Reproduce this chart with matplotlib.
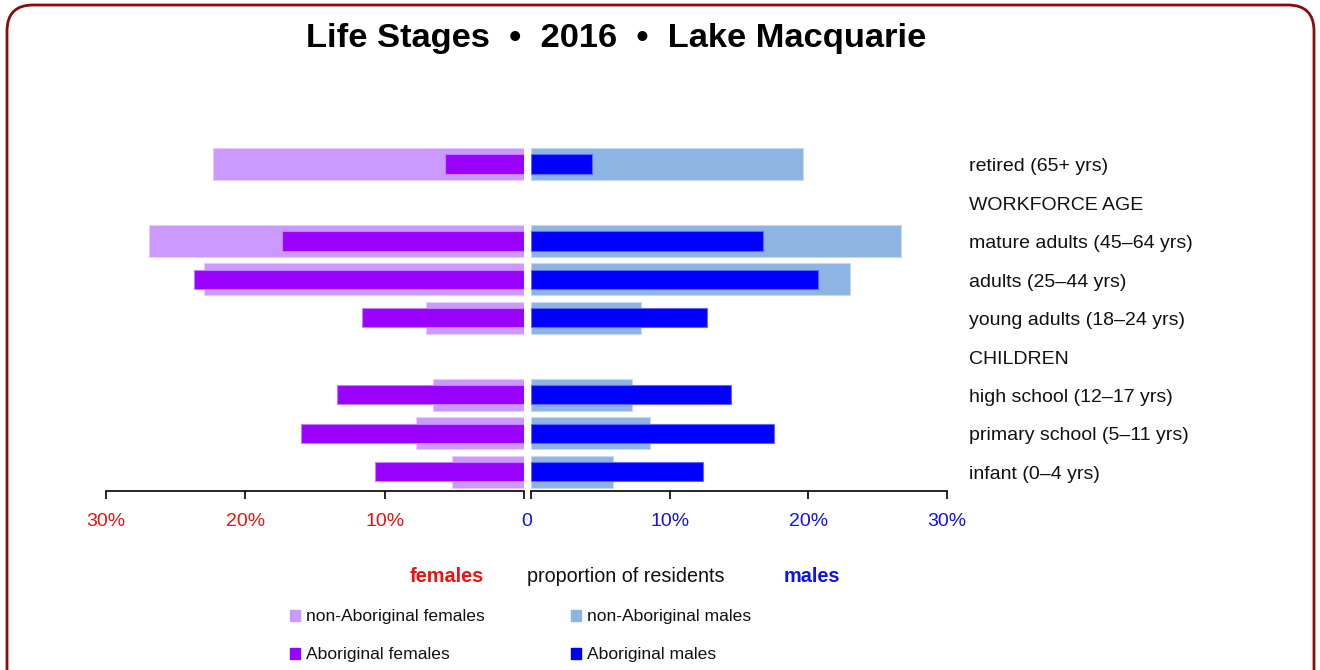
import numpy as np
import matplotlib
matplotlib.use("Agg")
import matplotlib.pyplot as plt
import matplotlib.transforms as mtransforms
from matplotlib.patches import FancyBboxPatch, Rectangle

# rows from top to bottom, None = section heading row
rows = ["retired (65+ yrs)", "WORKFORCE AGE", "mature adults (45\u201364 yrs)",
        "adults (25\u201344 yrs)", "young adults (18\u201324 yrs)", "CHILDREN",
        "high school (12\u201317 yrs)", "primary school (5\u201311 yrs)", "infant (0\u20134 yrs)"]
fem_non = [22.3, None, 26.9, 23.0, 7.0, None, 6.5, 7.75, 5.2]
fem_abo = [5.7, None, 17.4, 23.7, 11.65, None, 13.4, 16.0, 10.7]
male_non = [19.6, None, 26.7, 23.0, 7.95, None, 7.3, 8.6, 5.9]
male_abo = [4.4, None, 16.7, 20.7, 12.7, None, 14.4, 17.5, 12.4]

tick_vals = [0, 10, 20, 30]
left_ticks = ["", "10%", "20%", "30%"]
right_ticks = ["0", "10%", "20%", "30%"]

c_fem_non = "#CC99FF"
c_fem_abo = "#9900FF"
c_male_non = "#8EB4E3"
c_male_abo = "#0000FF"
c_red = "#EE1111"
c_blue = "#1111EE"

plt.rcParams['font.family'] = ['Liberation Sans', 'DejaVu Sans']

W, H = 1320, 670
fig = plt.figure(figsize=(W / 100, H / 100), dpi=100)

def fx(px):
    return px / W

def fy(py):
    return 1 - py / H

top_px, bot_px = 144.75, 491
ax_l = fig.add_axes([fx(106), fy(bot_px), fx(524) - fx(106), (bot_px - top_px) / H])
ax_r = fig.add_axes([fx(531), fy(bot_px), fx(947) - fx(531), (bot_px - top_px) / H])

y = np.arange(len(rows))
idx = [i for i in range(len(rows)) if fem_non[i] is not None]

ax_l.barh(y[idx], [fem_non[i] for i in idx], height=0.83, color=c_fem_non,
          edgecolor="#E6CCFF", linewidth=0.8)
ax_l.barh(y[idx], [fem_abo[i] for i in idx], height=0.5, color=c_fem_abo,
          edgecolor="#C080FF", linewidth=0.8)
ax_r.barh(y[idx], [male_non[i] for i in idx], height=0.83, color=c_male_non,
          edgecolor="#C6D9F1", linewidth=0.8)
ax_r.barh(y[idx], [male_abo[i] for i in idx], height=0.5, color=c_male_abo,
          edgecolor="#6666FF", linewidth=0.8)

ax_l.set_xlim(30, 0)
ax_r.set_xlim(0, 30)
for ax in (ax_l, ax_r):
    ax.set_ylim(len(rows) - 0.5, -0.5)
    ax.set_yticks([])
    for s in ("top", "left", "right"):
        ax.spines[s].set_visible(False)
    ax.spines["bottom"].set_linewidth(1.2)
    ax.set_xticks(tick_vals)
    ax.tick_params(axis="x", length=6, width=1.2, pad=10, labelsize=14)
    ax.patch.set_alpha(0)

ax_l.set_xticklabels(left_ticks, color=c_red)
ax_r.set_xticklabels(right_ticks, color=c_blue)
# the shared "0" sits between the two halves
ax_r.get_xticklabels()[0].set_transform(
    ax_r.get_xticklabels()[0].get_transform()
    + mtransforms.ScaledTranslation(-4 / 100, 0, fig.dpi_scale_trans))

# row labels
tr = mtransforms.blended_transform_factory(fig.transFigure, ax_r.transData)
for i, lab in enumerate(rows):
    ax_r.text(fx(969), y[i] + 0.07, lab, transform=tr, ha="left", va="center",
              fontsize=14, color="#111111", clip_on=False)

fig.text(fx(616), fy(38), "Life Stages  \u2022  2016  \u2022  Lake Macquarie",
         ha="center", va="center", fontsize=24.8, fontweight="bold")

fig.text(fx(447), fy(576), "females", ha="center", va="center", fontsize=14.3,
         fontweight="bold", color=c_red)
fig.text(fx(626), fy(576), "proportion of residents", ha="center", va="center",
         fontsize=14.2, color="#111111")
fig.text(fx(812), fy(576), "males", ha="center", va="center", fontsize=14.3,
         fontweight="bold", color=c_blue)

legend = [("non-Aboriginal females", c_fem_non, 290, 615),
          ("non-Aboriginal males", c_male_non, 571, 615),
          ("Aboriginal females", c_fem_abo, 290, 653),
          ("Aboriginal males", c_male_abo, 571, 653)]
for lab, col, lx, ly in legend:
    fig.patches.append(Rectangle((fx(lx), fy(ly + 6)), 10 / W, 11 / H, color=col,
                                 transform=fig.transFigure, figure=fig))
    fig.text(fx(lx + 16), fy(ly + 2), lab, ha="left", va="center", fontsize=12.6,
             color="#111111")

border = FancyBboxPatch((7, -40), 1307, 705, boxstyle="round,pad=0,rounding_size=26",
                        transform=None, fill=False, edgecolor="#8B0A0A", linewidth=2)
fig.patches.append(border)

fig.savefig("out.png", dpi=100)
